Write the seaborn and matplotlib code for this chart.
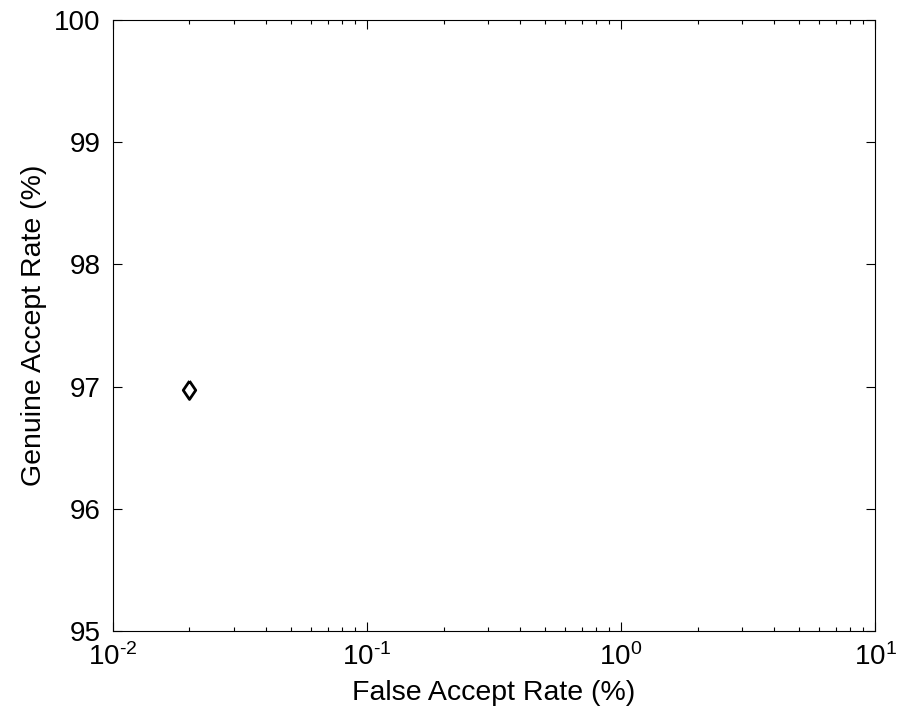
import matplotlib
matplotlib.use("Agg")
import matplotlib.pyplot as plt
import seaborn as sns
import pandas as pd
from matplotlib.ticker import LogLocator

far = [0.02]
gar = [96.97]
xticks = [0.01, 0.1, 1, 10]
xtick_labels = [r"10$^{\text{-2}}$", r"10$^{\text{-1}}$", r"10$^{\text{0}}$", r"10$^{\text{1}}$"]
yticks = [95, 96, 97, 98, 99, 100]

sns.set_style("ticks")
plt.rcParams['font.family'] = ['Liberation Sans', 'DejaVu Sans']
plt.rcParams['mathtext.fontset'] = 'custom'
plt.rcParams['mathtext.rm'] = 'Liberation Sans'
plt.rcParams['mathtext.it'] = 'Liberation Sans'
plt.rcParams['axes.unicode_minus'] = False

df = pd.DataFrame({"far": far, "gar": gar})

diamond = [(0, 1), (0.68, 0), (0, -1), (-0.68, 0), (0, 1)]

fig = plt.figure(figsize=(9.05, 7.1), dpi=100)
ax = fig.add_axes([0.1249, 0.1113, 0.842, 0.8605])
sns.scatterplot(data=df, x="far", y="gar", marker=diamond, s=175, facecolor="none",
                edgecolor="black", linewidth=2.0, ax=ax)
ax.set_xscale("log")
ax.set_xlim(0.01, 10)
ax.set_ylim(95, 100)
ax.set_xticks(xticks)
ax.set_xticklabels(xtick_labels)
ax.set_yticks(yticks)
ax.xaxis.set_minor_locator(LogLocator(base=10, subs=range(2, 10)))
ax.tick_params(which="both", direction="in", top=True, right=True, labelsize=20,
               colors="black", labelcolor="black")
ax.tick_params(which="major", length=6.5, width=0.8)
ax.tick_params(which="minor", length=3, width=0.8)
ax.tick_params(axis="y", pad=9)
ax.tick_params(axis="x", pad=9)
for s in ax.spines.values():
    s.set_color("black")
    s.set_linewidth(0.8)
ax.set_xlabel("False Accept Rate (%)", fontsize=20.5, color="black", labelpad=6)
ax.set_ylabel("Genuine Accept Rate (%)", fontsize=20.5, color="black", labelpad=5)
fig.savefig("out.png", dpi=100)
